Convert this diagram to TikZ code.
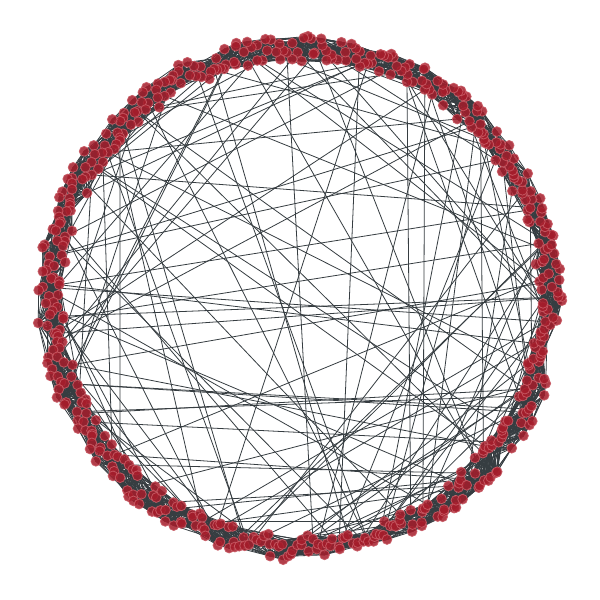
\documentclass[tikz,border=0pt]{standalone}
\usetikzlibrary{backgrounds}
\definecolor{nodefill}{HTML}{A51D2B}
\definecolor{nodeline}{HTML}{C85A64}
\definecolor{edgecol}{HTML}{363D41}
\begin{document}
\begin{tikzpicture}[x=1pt,y=-1pt,
 vert/.style={circle,fill=nodefill,draw=nodeline,line width=0.8pt,inner sep=0pt,minimum size=9.8pt,fill opacity=0.85,draw opacity=0.9},
 link/.style={draw=edgecol,line width=0.8pt}]
\useasboundingbox (0,0) rectangle (600,600);
\pgfmathsetseed{23}
\foreach \i in {0,...,499}{
  \pgfmathsetmacro\ua{frac(abs(sin(mod(\i*7.8233,36)*10))*437.5453)}
  \pgfmathsetmacro\ub{frac(abs(sin(mod(\i*1.2989,36)*10))*237.1453)}
  \pgfmathsetmacro\ang{90+\i*0.72+0.8*(\ub-0.5)}
  \pgfmathsetmacro\rad{237+26*\ua}
  \node[vert] (n\i) at ({300+\rad*cos(\ang)},{298-\rad*sin(\ang)}) {};
}
\begin{scope}[on background layer]
\fill[white] (0,0) rectangle (600,600);
\foreach \i in {0,...,499}{
  \foreach \j in {1,...,12}{
    \pgfmathtruncatemacro\b{mod(\i+\j,500)}
    \draw[link] (n\i.center) -- (n\b.center);
  }
}
\foreach \k in {1,...,170}{
  \pgfmathtruncatemacro\a{random(0,499)}
  \pgfmathtruncatemacro\b{random(0,499)}
  \draw[link] (n\a.center) -- (n\b.center);
}
\end{scope}
\end{tikzpicture}
\end{document}
